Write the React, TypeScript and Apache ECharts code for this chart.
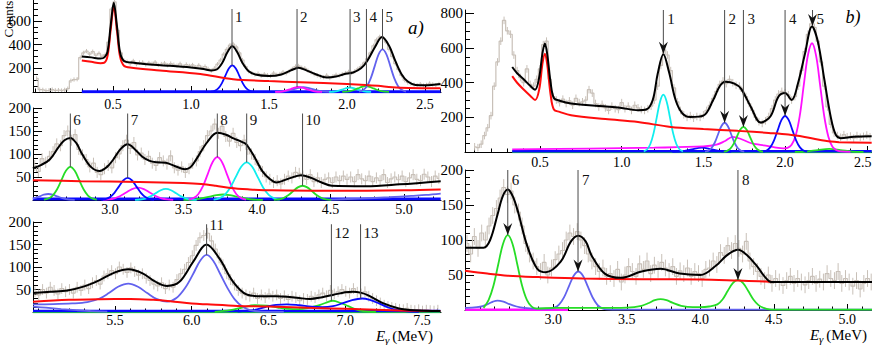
import React, { useEffect, useRef } from 'react';
import * as echarts from 'echarts';

type Pt = [number, number];

// ================= Panel a) top : 0 - 2.6 MeV =================
const a1BinStart = 0;
const a1BinWidth = 0.02;
const a1Counts = [115, 20, 18, 12, 15, 20, 14, 16, 12, 18, 28, 95, 105, 108, 290, 330, 345, 320, 340, 310, 325, 300, 315, 420, 700, 760, 520, 330, 265, 255, 240, 262, 235, 248, 250, 232, 245, 238, 252, 228, 236, 244, 226, 240, 230, 222, 238, 215, 232, 220, 228, 210, 225, 205, 215, 195, 180, 200, 235, 270, 320, 360, 395, 405, 380, 330, 270, 215, 175, 160, 148, 155, 138, 150, 142, 135, 160, 145, 152, 168, 158, 175, 195, 215, 220, 205, 200, 180, 165, 150, 140, 130, 125, 140, 118, 132, 145, 138, 150, 160, 170, 160, 175, 195, 215, 245, 280, 330, 390, 440, 465, 455, 420, 360, 300, 240, 190, 140, 100, 80, 70, 62, 58, 66, 55, 60, 72, 64, 58, 68];
const a1Err = 18;
const a1Fit: Pt[] = [[0.30, 300], [0.36, 292], [0.42, 282], [0.445, 292], [0.465, 340], [0.485, 560], [0.505, 752], [0.525, 560], [0.545, 335], [0.57, 262], [0.62, 248], [0.7, 236], [0.85, 222], [1.0, 206], [1.08, 194], [1.13, 182], [1.165, 190], [1.2, 245], [1.235, 340], [1.265, 386], [1.295, 340], [1.33, 245], [1.37, 175], [1.42, 145], [1.5, 135], [1.58, 148], [1.64, 182], [1.69, 204], [1.74, 182], [1.8, 150], [1.87, 122], [1.93, 130], [1.98, 150], [2.04, 165], [2.09, 200], [2.13, 262], [2.18, 380], [2.225, 463], [2.27, 390], [2.31, 262], [2.35, 150], [2.39, 88], [2.44, 60], [2.5, 57], [2.6, 68]];
const a1Background: Pt[] = [[0.30, 265], [0.36, 255], [0.42, 243], [0.445, 248], [0.465, 305], [0.485, 525], [0.505, 718], [0.525, 525], [0.545, 300], [0.57, 222], [0.62, 205], [0.8, 182], [1.06, 152], [1.27, 108], [1.5, 92], [1.7, 82], [2.0, 68], [2.12, 60], [2.2, 52], [2.29, 40], [2.4, 34], [2.6, 31]];
const a1Peak1: Pt[] = [[1.13, 2.5], [1.1525, 10], [1.175, 30], [1.1975, 73], [1.22, 136], [1.2425, 199], [1.265, 225], [1.2875, 199], [1.31, 136], [1.3325, 73], [1.355, 30], [1.3775, 10], [1.40, 2.5]];
const a1Peak2a: Pt[] = [[1.54, 0.5], [1.59, 5.7], [1.64, 25], [1.665, 37], [1.69, 42], [1.715, 37], [1.74, 25], [1.79, 5.7], [1.84, 0.5]];
const a1Peak2b: Pt[] = [[1.54, 1], [1.60, 5.4], [1.66, 24], [1.69, 35], [1.72, 40], [1.75, 35], [1.78, 24], [1.84, 5.4], [1.90, 1]];
const a1Peak3: Pt[] = [[1.885, 0.4], [1.93, 5], [1.975, 23], [1.9975, 33.5], [2.02, 38], [2.0425, 33.5], [2.065, 23], [2.11, 5], [2.155, 0.4]];
const a1Peak4: Pt[] = [[1.97, 0.5], [2.02, 7], [2.07, 30], [2.095, 44], [2.12, 50], [2.145, 44], [2.17, 30], [2.22, 7], [2.27, 0.5]];
const a1Peak5: Pt[] = [[2.078, 4], [2.103, 16], [2.128, 49], [2.153, 117], [2.178, 218], [2.203, 318], [2.228, 360], [2.253, 318], [2.278, 218], [2.303, 117], [2.328, 49], [2.353, 16], [2.378, 4]];
const a1Floor: Pt[] = [[0.30, 3], [2.60, 3]];
const a1XTicks = [0.5, 1.0, 1.5, 2.0, 2.5];
const a1YTicks = [200, 400, 600];
const a1MarkE = [1.263, 1.68, 2.02, 2.125, 2.228];
const a1MarkTop = 700;
const a1MarkBottom = [225, 42, 38, 50, 360];
const a1MarkLabels = ['1', '2', '3', '4', '5'];

// ================= Panel a) middle : 2.5 - 5.25 MeV =================
const a2BinStart = 2.475;
const a2BinWidth = 0.025;
const a2Counts = [75, 62, 90, 82, 95, 105, 122, 118, 140, 150, 130, 142, 110, 98, 88, 72, 80, 60, 55, 68, 75, 70, 92, 100, 118, 130, 112, 125, 98, 102, 88, 95, 80, 75, 92, 85, 78, 96, 70, 65, 72, 60, 68, 80, 85, 105, 118, 140, 150, 165, 145, 160, 138, 128, 145, 125, 118, 130, 110, 100, 88, 75, 62, 50, 45, 38, 42, 35, 45, 52, 48, 60, 58, 52, 45, 55, 40, 48, 38, 45, 48, 38, 50, 42, 52, 45, 50, 40, 55, 46, 42, 52, 40, 48, 42, 55, 38, 46, 50, 44, 52, 40, 48, 55, 45, 42, 56, 50, 40, 52, 47];
const a2Err = 12;
const a2Fit: Pt[] = [[2.475, 69], [2.53, 76], [2.59, 88], [2.65, 115], [2.69, 130], [2.73, 135], [2.77, 124], [2.81, 100], [2.87, 72], [2.93, 63], [2.98, 72], [3.02, 87], [3.07, 110], [3.12, 121], [3.17, 110], [3.22, 94], [3.27, 85], [3.32, 82], [3.38, 81], [3.44, 74], [3.51, 67], [3.55, 72], [3.59, 90], [3.66, 125], [3.73, 146], [3.79, 142], [3.84, 134], [3.90, 126], [3.93, 120], [3.98, 95], [4.04, 61], [4.09, 45], [4.13, 38], [4.22, 47], [4.30, 54], [4.37, 48], [4.44, 38], [4.51, 31], [4.74, 30], [4.97, 34], [5.25, 41]];
const a2Background: Pt[] = [[2.475, 43], [2.8, 41], [3.2, 39], [3.5, 37], [3.62, 35], [3.72, 31], [3.82, 26], [3.95, 23], [4.1, 21], [4.5, 20], [5.0, 21], [5.25, 23]];
const a2Peak6: Pt[] = [[2.55, 0.8], [2.58, 3.2], [2.61, 9.7], [2.64, 23.4], [2.67, 43.7], [2.70, 63.5], [2.73, 72], [2.76, 63.5], [2.79, 43.7], [2.82, 23.4], [2.85, 9.7], [2.88, 3.2], [2.91, 0.8]];
const a2Low1: Pt[] = [[2.475, 2.8], [2.52, 7.9], [2.55, 11.5], [2.58, 13], [2.61, 11.5], [2.64, 7.9], [2.70, 1.8], [2.76, 0.2]];
const a2Peak7: Pt[] = [[2.94, 0.5], [2.97, 2.1], [3.00, 6.5], [3.03, 15.6], [3.06, 29.1], [3.09, 42.4], [3.12, 48], [3.15, 42.4], [3.18, 29.1], [3.21, 15.6], [3.24, 6.5], [3.27, 2.1], [3.30, 0.5]];
const a2Low2: Pt[] = [[2.95, 0.3], [2.99, 1.2], [3.03, 3.7], [3.07, 8.8], [3.11, 16.4], [3.15, 23.8], [3.19, 27], [3.23, 23.8], [3.27, 16.4], [3.31, 8.8], [3.35, 3.7], [3.39, 1.2], [3.43, 0.3]];
const a2Low3: Pt[] = [[3.17, 0.27], [3.205, 1.05], [3.24, 3.2], [3.275, 7.8], [3.31, 14.6], [3.345, 21.2], [3.38, 24], [3.415, 21.2], [3.45, 14.6], [3.485, 7.8], [3.52, 3.2], [3.555, 1.05], [3.59, 0.27]];
const a2Peak8: Pt[] = [[3.535, 1.0], [3.5675, 4.1], [3.60, 12.6], [3.6325, 30.2], [3.665, 56.4], [3.6975, 82.1], [3.73, 93], [3.7625, 82.1], [3.795, 56.4], [3.8275, 30.2], [3.86, 12.6], [3.8925, 4.1], [3.925, 1.0]];
const a2Peak9: Pt[] = [[3.705, 0.9], [3.7425, 3.6], [3.78, 11.1], [3.8175, 26.6], [3.855, 49.7], [3.8925, 72.4], [3.93, 82], [3.9675, 72.4], [4.005, 49.7], [4.0425, 26.6], [4.08, 11.1], [4.1175, 3.6], [4.155, 0.9]];
const a2Low4: Pt[] = [[3.50, 0.1], [3.59, 1.6], [3.68, 7.3], [3.725, 10.6], [3.77, 12], [3.815, 10.6], [3.86, 7.3], [3.95, 1.6], [4.04, 0.1]];
const a2Peak10: Pt[] = [[4.115, 0.34], [4.1475, 1.4], [4.18, 4.2], [4.2125, 10.1], [4.245, 18.8], [4.2775, 27.4], [4.31, 31], [4.3425, 27.4], [4.375, 18.8], [4.4075, 10.1], [4.44, 4.2], [4.4725, 1.4], [4.505, 0.34]];
const a2Tail: Pt[] = [[4.5, 1], [4.7, 3], [4.9, 6], [5.05, 9], [5.15, 11], [5.25, 14]];
const a2Floor: Pt[] = [[2.475, 2], [5.25, 2]];
const a2XTicks = [3.0, 3.5, 4.0, 4.5, 5.0];
const a2YTicks = [50, 100, 150, 200];
const a2MarkE = [2.73, 3.12, 3.73, 3.93, 4.31];
const a2MarkTop = 188;
const a2MarkBottom = [72, 48, 93, 82, 31];
const a2MarkLabels = ['6', '7', '8', '9', '10'];

// ================= Panel a) bottom : 5 - 7.6 MeV =================
const a3BinStart = 4.966;
const a3BinWidth = 0.025;
const a3Counts = [45, 38, 50, 42, 55, 48, 40, 52, 45, 50, 42, 55, 48, 60, 52, 65, 70, 62, 80, 85, 92, 85, 100, 95, 88, 98, 90, 82, 85, 75, 70, 62, 58, 65, 52, 60, 55, 72, 85, 95, 110, 125, 148, 165, 170, 175, 158, 140, 120, 105, 85, 72, 60, 48, 42, 38, 35, 42, 30, 38, 32, 40, 35, 38, 30, 36, 28, 35, 32, 25, 30, 28, 35, 32, 38, 42, 36, 48, 40, 45, 50, 46, 42, 52, 44, 40, 45, 35, 30, 25, 20, 15, 12, 10, 8, 6, 5, 8, 4, 3, 5, 2, 4, 3, 2, 4];
const a3Err = 12;
const a3Fit: Pt[] = [[4.966, 42], [5.08, 45], [5.19, 48], [5.30, 57], [5.40, 71], [5.50, 88], [5.587, 95], [5.68, 86], [5.76, 68], [5.84, 58], [5.92, 67], [6.01, 112], [6.097, 150], [6.18, 119], [6.27, 67], [6.357, 39], [6.45, 35], [6.55, 35], [6.62, 34], [6.70, 31], [6.77, 29], [6.85, 33], [6.92, 38], [7.0, 44], [7.05, 45], [7.10, 43], [7.15, 37], [7.25, 19], [7.35, 8], [7.45, 4], [7.62, 2]];
const a3Background: Pt[] = [[4.966, 23], [5.2, 27], [5.4, 28.5], [5.6, 29], [5.75, 27], [5.86, 24], [6.0, 19], [6.1, 17], [6.3, 13.5], [6.5, 12], [6.8, 9], [7.0, 7], [7.2, 5], [7.4, 3], [7.62, 2]];
const a3Peak11: Pt[] = [[4.966, 17], [5.10, 17.5], [5.22, 19], [5.32, 22], [5.40, 30], [5.46, 42], [5.52, 56], [5.587, 63], [5.65, 56], [5.71, 42], [5.77, 29], [5.84, 23], [5.90, 31], [5.96, 55], [6.01, 85], [6.055, 114], [6.097, 127], [6.14, 114], [6.185, 85], [6.235, 52], [6.28, 28], [6.33, 12], [6.38, 4], [6.45, 1], [6.6, 0.3]];
const a3LowTail: Pt[] = [[4.966, 12], [5.05, 9.5], [5.15, 6.5], [5.25, 4], [5.35, 2], [5.45, 1]];
const a3Peak13: Pt[] = [[6.30, 1], [6.40, 4], [6.48, 11], [6.55, 16], [6.62, 17], [6.70, 15], [6.78, 12], [6.85, 11], [6.92, 13], [6.98, 19], [7.04, 26], [7.11, 30], [7.16, 27], [7.22, 19], [7.28, 10], [7.34, 4], [7.40, 1.5], [7.48, 0.3]];
const a3Peak12: Pt[] = [[6.15, 0.5], [6.25, 4], [6.33, 10], [6.41, 15], [6.49, 14], [6.56, 10], [6.63, 7], [6.70, 6.5], [6.76, 9], [6.82, 14], [6.87, 20], [6.92, 25], [6.97, 20], [7.02, 13], [7.07, 6], [7.12, 2], [7.2, 0.3]];
const a3FloorGreen: Pt[] = [[4.966, 0.5], [7.62, 0.5]];
const a3FloorBlue: Pt[] = [[4.966, 2], [7.62, 2]];
const a3XTicks = [5.5, 6.0, 6.5, 7.0, 7.5];
const a3YTicks = [50, 100, 150, 200];
const a3MarkE = [6.097, 6.91, 7.10];
const a3MarkTop = 195;
const a3MarkBottom = [127, 25, 30];
const a3MarkLabels = ['11', '12', '13'];

// ================= Panel b) top : 0 - 2.5 MeV =================
const b1BinStart = 0.09;
const b1BinWidth = 0.02;
const b1Counts = [30, 25, 45, 95, 140, 210, 380, 520, 640, 760, 700, 680, 560, 470, 430, 400, 480, 390, 380, 420, 480, 620, 640, 420, 320, 300, 285, 305, 280, 295, 270, 310, 285, 290, 300, 360, 340, 280, 260, 275, 255, 240, 265, 250, 245, 285, 250, 265, 240, 270, 255, 245, 240, 250, 265, 300, 380, 500, 590, 560, 470, 370, 290, 240, 215, 200, 210, 195, 205, 200, 215, 240, 270, 310, 350, 390, 410, 395, 420, 400, 385, 380, 350, 320, 280, 240, 200, 175, 165, 180, 205, 250, 300, 335, 350, 340, 330, 300, 320, 380, 470, 580, 680, 740, 720, 640, 520, 380, 260, 160, 110, 95, 85, 100, 88, 92, 80, 95, 85, 90, 98, 88];
const b1Err = 22;
const b1Fit: Pt[] = [[0.33, 491], [0.36, 455], [0.40, 420], [0.44, 382], [0.47, 360], [0.495, 430], [0.515, 570], [0.53, 626], [0.545, 560], [0.565, 400], [0.585, 312], [0.62, 296], [0.69, 280], [0.89, 264], [0.99, 256], [1.10, 241], [1.15, 245], [1.19, 300], [1.22, 450], [1.255, 565], [1.29, 460], [1.33, 300], [1.37, 225], [1.42, 202], [1.50, 210], [1.56, 300], [1.60, 380], [1.635, 405], [1.69, 395], [1.73, 366], [1.79, 262], [1.85, 170], [1.91, 205], [1.96, 320], [2.00, 340], [2.04, 300], [2.08, 400], [2.12, 560], [2.165, 725], [2.20, 640], [2.24, 420], [2.28, 200], [2.31, 100], [2.34, 80], [2.42, 88], [2.53, 91]];
const b1Background: Pt[] = [[0.33, 438], [0.36, 400], [0.40, 361], [0.44, 325], [0.47, 300], [0.495, 360], [0.515, 510], [0.53, 568], [0.545, 500], [0.565, 330], [0.585, 245], [0.62, 232], [0.69, 212], [0.9, 190], [1.10, 173], [1.30, 145], [1.5, 133], [1.71, 122], [1.9, 110], [2.02, 101], [2.12, 87], [2.2, 72], [2.28, 60], [2.33, 57], [2.53, 53]];
const b1Peak1: Pt[] = [[1.135, 3.7], [1.155, 14.5], [1.175, 44.8], [1.195, 107.5], [1.215, 201], [1.235, 292], [1.255, 331], [1.275, 292], [1.295, 201], [1.315, 107.5], [1.335, 44.8], [1.355, 14.5], [1.375, 3.7]];
const b1Peak2: Pt[] = [[1.51, 1.9], [1.53, 7.4], [1.55, 22.9], [1.57, 54.9], [1.59, 102.5], [1.61, 149], [1.63, 169], [1.65, 149], [1.67, 102.5], [1.69, 54.9], [1.71, 22.9], [1.73, 7.4], [1.75, 1.9]];
const b1Peak3: Pt[] = [[1.625, 1.6], [1.645, 6.4], [1.665, 19.6], [1.685, 47], [1.705, 88], [1.725, 128], [1.745, 145], [1.765, 128], [1.785, 88], [1.805, 47], [1.825, 19.6], [1.845, 6.4], [1.865, 1.6]];
const b1Peak4: Pt[] = [[1.865, 2.3], [1.8875, 9.1], [1.91, 28.1], [1.9325, 67.5], [1.955, 126], [1.9775, 183.6], [2.0, 208], [2.0225, 183.6], [2.045, 126], [2.0675, 67.5], [2.09, 28.1], [2.1125, 9.1], [2.135, 2.3]];
const b1Peak5: Pt[] = [[0.33, 15], [0.8, 20], [1.2, 25], [1.5, 32], [1.58, 42], [1.63, 62], [1.68, 87], [1.73, 75], [1.78, 55], [1.82, 45], [1.87, 38], [1.93, 28], [1.99, 21], [2.015, 24], [2.04, 42], [2.065, 95], [2.09, 210], [2.115, 390], [2.14, 560], [2.165, 628], [2.19, 555], [2.215, 382], [2.24, 205], [2.265, 88], [2.29, 30], [2.315, 10], [2.34, 4], [2.4, 1]];
const b1LowBlue: Pt[] = [[1.31, 0.3], [1.37, 3.4], [1.43, 15], [1.49, 25], [1.55, 15], [1.61, 3.4], [1.67, 0.3]];
const b1LowGreen: Pt[] = [[2.06, 0.2], [2.13, 2.4], [2.20, 11], [2.27, 18], [2.34, 11], [2.41, 2.4], [2.48, 0.2]];
const b1FloorBlue: Pt[] = [[0.33, 5], [2.53, 5]];
const b1FloorGreen: Pt[] = [[0.33, 1], [2.53, 1]];
const b1XTicks = [0.5, 1.0, 1.5, 2.0, 2.5];
const b1YTicks = [200, 400, 600, 800];
const b1MarkE = [1.255, 1.63, 1.745, 2.0, 2.168];
const b1MarkTop = 820;
const b1MarkBottom = [567, 169, 145, 209, 728];
const b1MarkLabels = ['1', '2', '3', '4', '5'];

// ================= Panel b) bottom : 2.4 - 5.2 MeV =================
const b2BinStart = 2.40;
const b2BinWidth = 0.025;
const b2Counts = [95, 80, 105, 88, 110, 100, 120, 135, 145, 160, 175, 165, 170, 150, 140, 120, 95, 80, 70, 62, 55, 68, 50, 60, 72, 80, 85, 100, 110, 105, 112, 100, 92, 80, 70, 62, 55, 60, 48, 52, 45, 58, 40, 50, 62, 55, 48, 66, 58, 70, 52, 64, 58, 68, 60, 55, 62, 48, 56, 52, 60, 48, 55, 52, 45, 58, 60, 70, 65, 82, 78, 92, 85, 95, 88, 80, 98, 70, 62, 55, 48, 42, 50, 38, 45, 40, 35, 42, 48, 38, 45, 40, 36, 42, 48, 38, 44, 40, 52, 45, 42, 55, 38, 45, 40, 34, 42, 30, 38, 45, 40];
const b2Err = 12;
const b2Fit: Pt[] = [[2.40, 89], [2.525, 89], [2.57, 100], [2.62, 136], [2.655, 162], [2.69, 172], [2.725, 162], [2.76, 140], [2.82, 93], [2.89, 59], [2.95, 54], [3.05, 69], [3.12, 98], [3.17, 106], [3.22, 98], [3.26, 78], [3.35, 52], [3.46, 46], [3.60, 55], [3.73, 59], [3.86, 52], [4.00, 50], [4.11, 64], [4.18, 78], [4.256, 86], [4.32, 78], [4.38, 64], [4.47, 41], [4.50, 40], [5.17, 40]];
const b2Background: Pt[] = [[2.40, 56], [2.55, 52], [2.69, 49], [2.9, 47], [3.2, 45], [3.6, 44], [4.0, 43.5], [4.256, 42], [4.4, 41], [4.5, 40], [5.17, 40]];
const b2Peaks68: Pt[] = [[2.525, 3], [2.56, 14.5], [2.5925, 34.7], [2.625, 64.9], [2.6575, 94.4], [2.69, 107], [2.7225, 94.4], [2.755, 64.9], [2.7875, 34.7], [2.82, 14.5], [2.8525, 4.7], [2.885, 2], [3.0, 3], [3.3, 3], [3.5, 3.5], [3.6, 6], [3.65, 10], [3.69, 14], [3.73, 15.5], [3.77, 14], [3.81, 10.5], [3.87, 6], [3.95, 4], [4.0, 4], [4.06, 5], [4.116, 8], [4.151, 15], [4.186, 27], [4.221, 38.5], [4.256, 43], [4.291, 38.5], [4.326, 27], [4.361, 15], [4.396, 7], [4.431, 3], [4.47, 1], [4.55, 0.5], [5.17, 0.5]];
const b2Peak7: Pt[] = [[2.40, 3], [2.48, 4], [2.52, 5.5], [2.56, 9], [2.59, 12], [2.62, 13.5], [2.66, 12], [2.70, 8.5], [2.75, 5], [2.80, 3], [2.88, 2], [2.975, 2], [3.0075, 3.4], [3.04, 8], [3.0725, 18], [3.105, 33.4], [3.1375, 48.5], [3.17, 55], [3.2025, 48.5], [3.235, 33.4], [3.2675, 17.9], [3.30, 7.4], [3.3325, 2.4], [3.365, 0.8], [3.45, 0.5], [5.17, 0.5]];
const b2FloorMagenta: Pt[] = [[2.40, 0.5], [3.1, 0.5]];
const b2XTicks = [3.0, 3.5, 4.0, 4.5, 5.0];
const b2YTicks = [50, 100, 150, 200];
const b2MarkE = [2.69, 3.168, 4.256];
const b2MarkTop = 200;
const b2MarkBottom = [107, 55, 43];
const b2MarkLabels = ['6', '7', '8'];

// ================= styling =================
const FONT = 'Liberation Serif, serif';
const TICK_FS = 14;
const C: Record<string, string> = {
  black: '#000000', red: '#ff0d0d', blue: '#0a0aff', slate: '#6262ee', magenta: '#ff10ff',
  cyan: '#10eeee', green: '#26dd26', hist: '#c8c0b8', mark: '#4a4a4a',
};

type Curve = [Pt[], string, number?];

const PANELS = [
  {
    left: 33, top: 0, width: 408, height: 92, xMin: -0.013, xMax: 2.603, yMax: 776, yMinor: 50,
    xMargin: 5, lastPad: 0, xTicks: a1XTicks, yTicks: a1YTicks, binStart: a1BinStart, binWidth: a1BinWidth,
    counts: a1Counts, err: a1Err, arrows: false, labelDx: 3, labelDy: [0, 0, 0, 0, 0],
    mark: { e: a1MarkE, top: a1MarkTop, bottom: a1MarkBottom, labels: a1MarkLabels },
    curves: [[a1Floor, 'blue', 3], [a1Peak2b, 'slate'], [a1Peak2a, 'magenta'], [a1Peak3, 'cyan'], [a1Peak4, 'green'], [a1Peak1, 'blue'], [a1Peak5, 'slate'], [a1Background, 'red', 2], [a1Fit, 'black', 2]] as Curve[],
  },
  {
    left: 33, top: 108, width: 408, height: 92, xMin: 2.476, xMax: 5.252, yMax: 200, yMinor: 10,
    xMargin: 2, lastPad: 0, xTicks: a2XTicks, yTicks: a2YTicks, binStart: a2BinStart, binWidth: a2BinWidth,
    counts: a2Counts, err: a2Err, arrows: false, labelDx: 3, labelDy: [-1, -1, -1, -1, -1],
    mark: { e: a2MarkE, top: a2MarkTop, bottom: a2MarkBottom, labels: a2MarkLabels },
    curves: [[a2Floor, 'blue', 3], [a2Tail, 'slate'], [a2Low1, 'slate'], [a2Low4, 'green'], [a2Low2, 'magenta'], [a2Low3, 'cyan'], [a2Peak6, 'green'], [a2Peak7, 'blue'], [a2Peak8, 'magenta'], [a2Peak9, 'cyan'], [a2Peak10, 'green'], [a2Background, 'red', 2], [a2Fit, 'black', 2]] as Curve[],
  },
  {
    left: 33, top: 222, width: 408, height: 90, xMin: 4.966, xMax: 7.624, yMax: 200, yMinor: 10,
    xMargin: 1, lastPad: 0, xTicks: a3XTicks, yTicks: a3YTicks, binStart: a3BinStart, binWidth: a3BinWidth,
    counts: a3Counts, err: a3Err, arrows: false, labelDx: 3, labelDy: [-7, 1, 1],
    mark: { e: a3MarkE, top: a3MarkTop, bottom: a3MarkBottom, labels: a3MarkLabels },
    curves: [[a3FloorGreen, 'green', 3], [a3FloorBlue, 'blue', 2.5], [a3LowTail, 'slate'], [a3Peak12, 'green'], [a3Peak13, 'blue'], [a3Peak11, 'slate'], [a3Background, 'red', 2], [a3Fit, 'black', 2]] as Curve[],
  },
  {
    left: 465, top: 10, width: 407, height: 142, xMin: 0.041, xMax: 2.532, yMax: 820, yMinor: 50,
    xMargin: 3, lastPad: 8, xTicks: b1XTicks, yTicks: b1YTicks, binStart: b1BinStart, binWidth: b1BinWidth,
    counts: b1Counts, err: b1Err, arrows: true, labelDx: 4, labelDy: [1, 1, 1, 1, 1],
    mark: { e: b1MarkE, top: b1MarkTop, bottom: b1MarkBottom, labels: b1MarkLabels },
    curves: [[b1FloorGreen, 'green', 3], [b1FloorBlue, 'blue', 2.5], [b1LowBlue, 'blue'], [b1LowGreen, 'green'], [b1Peak5, 'magenta'], [b1Peak1, 'cyan'], [b1Peak2, 'slate'], [b1Peak3, 'green'], [b1Peak4, 'blue'], [b1Background, 'red', 2], [b1Fit, 'black', 2]] as Curve[],
  },
  {
    left: 465, top: 170, width: 407, height: 140, xMin: 2.399, xMax: 5.168, yMax: 200, yMinor: 10,
    xMargin: 2, lastPad: 0, xTicks: b2XTicks, yTicks: b2YTicks, binStart: b2BinStart, binWidth: b2BinWidth,
    counts: b2Counts, err: b2Err, arrows: true, labelDx: 4, labelDy: [2, 2, 2],
    mark: { e: b2MarkE, top: b2MarkTop, bottom: b2MarkBottom, labels: b2MarkLabels },
    curves: [[b2FloorMagenta, 'magenta', 2.5], [b2Peak7, 'slate'], [b2Peaks68, 'green'], [b2Background, 'red', 2], [b2Fit, 'black', 2]] as Curve[],
  },
];

function stepValues(from: number, to: number, step: number, skip: number[]): number[] {
  const out: number[] = [];
  const start = Math.ceil((from - 1e-9) / step);
  for (let k = start; k * step <= to + 1e-9; k++) {
    const v = +(k * step).toFixed(4);
    if (!skip.some((s) => Math.abs(s - v) < 1e-6)) out.push(v);
  }
  return out;
}

function buildOption() {
  const grid: any[] = [];
  const xAxis: any[] = [];
  const yAxis: any[] = [];
  const series: any[] = [];

  PANELS.forEach((p, i) => {
    grid.push({ left: p.left, top: p.top, width: p.width, height: p.height, containLabel: false, outerBoundsMode: 'none' });
    const common = { type: 'value', gridIndex: i, splitLine: { show: false }, offset: 0 };
    const lastTick = p.xTicks[p.xTicks.length - 1];
    xAxis.push({
      ...common, min: p.xMin, max: p.xMax, position: 'bottom',
      axisLine: { show: true, onZero: false, lineStyle: { color: '#000', width: 1 } },
      axisTick: { show: true, inside: true, length: 6, customValues: p.xTicks, lineStyle: { color: '#000' } },
      axisLabel: {
        show: true, customValues: p.xTicks, margin: p.xMargin, color: '#000', fontSize: TICK_FS, fontFamily: FONT,
        formatter: (v: number) => (p.lastPad && Math.abs(v - lastTick) < 1e-6 ? `{e|${v.toFixed(1)}}` : v.toFixed(1)),
        rich: { e: { fontSize: TICK_FS, fontFamily: FONT, color: '#000', padding: [0, p.lastPad, 0, 0] } },
      },
    });
    xAxis.push({
      ...common, min: p.xMin, max: p.xMax, position: 'bottom',
      axisLine: { show: false, onZero: false },
      axisTick: { show: true, inside: true, length: 3.5, customValues: stepValues(p.xMin, p.xMax, 0.1, p.xTicks), lineStyle: { color: '#000' } },
      axisLabel: { show: false },
    });
    yAxis.push({
      ...common, min: 0, max: p.yMax, position: 'left',
      axisLine: { show: true, onZero: false, lineStyle: { color: '#000', width: 1 } },
      axisTick: { show: true, inside: true, length: 9, customValues: p.yTicks, lineStyle: { color: '#000' } },
      axisLabel: { show: true, customValues: p.yTicks, margin: 2, color: '#000', fontSize: TICK_FS + 1, fontFamily: FONT },
    });
    yAxis.push({
      ...common, min: 0, max: p.yMax, position: 'left',
      axisLine: { show: false, onZero: false },
      axisTick: { show: true, inside: true, length: 5, customValues: stepValues(0, p.yMax, p.yMinor, p.yTicks), lineStyle: { color: '#000' } },
      axisLabel: { show: false },
    });

    const ax = 2 * i;
    const hist = p.counts.map((c, k) => [p.binStart + (k + 0.5) * p.binWidth, c]);
    series.push({
      type: 'line', xAxisIndex: ax, yAxisIndex: ax, data: hist, step: 'middle', showSymbol: false, silent: true,
      lineStyle: { color: C.hist, width: 1.2 }, z: 1,
    });
    series.push({
      type: 'custom', xAxisIndex: ax, yAxisIndex: ax, clip: true, silent: true, z: 1,
      data: p.counts.map((c, k) => [p.binStart + (k + 0.5) * p.binWidth, c, p.err]),
      renderItem: (_params: any, api: any) => {
        const x = api.value(0), y = api.value(1), e = api.value(2);
        const a = api.coord([x, Math.max(0, y - e)]);
        const b = api.coord([x, y + e]);
        return { type: 'line', shape: { x1: a[0], y1: a[1], x2: b[0], y2: b[1] }, style: { stroke: C.hist, lineWidth: 1 } };
      },
    });
    p.curves.forEach(([pts, col, w]) => {
      series.push({
        type: 'line', xAxisIndex: ax, yAxisIndex: ax, data: pts, showSymbol: false, silent: true,
        smooth: pts.length > 2 ? 0.35 : false, lineStyle: { color: C[col], width: w ?? 1.8 }, z: 2,
      });
    });
    const m = p.mark;
    series.push({
      type: 'custom', xAxisIndex: ax, yAxisIndex: ax, clip: false, silent: true, z: 5,
      data: m.e.map((e, k) => [e, m.top, m.bottom[k]]),
      renderItem: (params: any, api: any) => {
        const t = api.coord([api.value(0), api.value(1)]);
        const b = api.coord([api.value(0), api.value(2)]);
        const k = params.dataIndex;
        const children: any[] = [
          { type: 'line', shape: { x1: t[0], y1: t[1], x2: b[0], y2: b[1] }, style: { stroke: C.mark, lineWidth: 1 } },
          { type: 'text', x: t[0] + p.labelDx, y: t[1] + p.labelDy[k], style: { text: m.labels[k], fill: '#111', font: `15px ${FONT}`, align: 'left', verticalAlign: 'top' } },
        ];
        if (p.arrows) {
          children.push({
            type: 'polygon',
            shape: { points: [[b[0], b[1]], [b[0] - 4.5, b[1] - 12], [b[0], b[1] - 8], [b[0] + 4.5, b[1] - 12]] },
            style: { fill: '#111' },
          });
        }
        return { type: 'group', children };
      },
    });
  });

  const graphic: any[] = [
    { type: 'text', x: 8, y: 19, rotation: Math.PI / 2, style: { text: 'Counts', font: `13px ${FONT}`, fill: '#000', align: 'center', verticalAlign: 'middle' } },
    { type: 'text', x: 416, y: 27, style: { text: 'a)', font: `italic 19px ${FONT}`, fill: '#000', align: 'center', verticalAlign: 'middle' } },
    { type: 'text', x: 853, y: 17, style: { text: 'b)', font: `italic 18px ${FONT}`, fill: '#000', align: 'center', verticalAlign: 'middle' } },
    { type: 'text', x: 376, y: 336, style: { text: 'E', font: `italic 15px ${FONT}`, fill: '#000', align: 'left', verticalAlign: 'middle' } },
    { type: 'text', x: 385, y: 340, style: { text: 'γ', font: `italic 11px ${FONT}`, fill: '#000', align: 'left', verticalAlign: 'middle' } },
    { type: 'text', x: 433, y: 336, style: { text: '(MeV)', font: `15px ${FONT}`, fill: '#000', align: 'right', verticalAlign: 'middle' } },
    { type: 'text', x: 810, y: 335, style: { text: 'E', font: `italic 15px ${FONT}`, fill: '#000', align: 'left', verticalAlign: 'middle' } },
    { type: 'text', x: 819, y: 339, style: { text: 'γ', font: `italic 11px ${FONT}`, fill: '#000', align: 'left', verticalAlign: 'middle' } },
    { type: 'text', x: 867, y: 335, style: { text: '(MeV)', font: `15px ${FONT}`, fill: '#000', align: 'right', verticalAlign: 'middle' } },
  ];

  return { animation: false, backgroundColor: '#ffffff', textStyle: { fontFamily: FONT }, grid, xAxis, yAxis, series, graphic };
}

export default function App() {
  const ref = useRef<HTMLDivElement>(null);
  useEffect(() => {
    if (!ref.current) return;
    const chart = echarts.init(ref.current, null, { renderer: 'svg' });
    chart.setOption(buildOption() as any);
    return () => chart.dispose();
  }, []);
  return <div ref={ref} style={{ position: 'fixed', left: 0, top: 0, width: 872, height: 345, background: '#fff' }} />;
}
